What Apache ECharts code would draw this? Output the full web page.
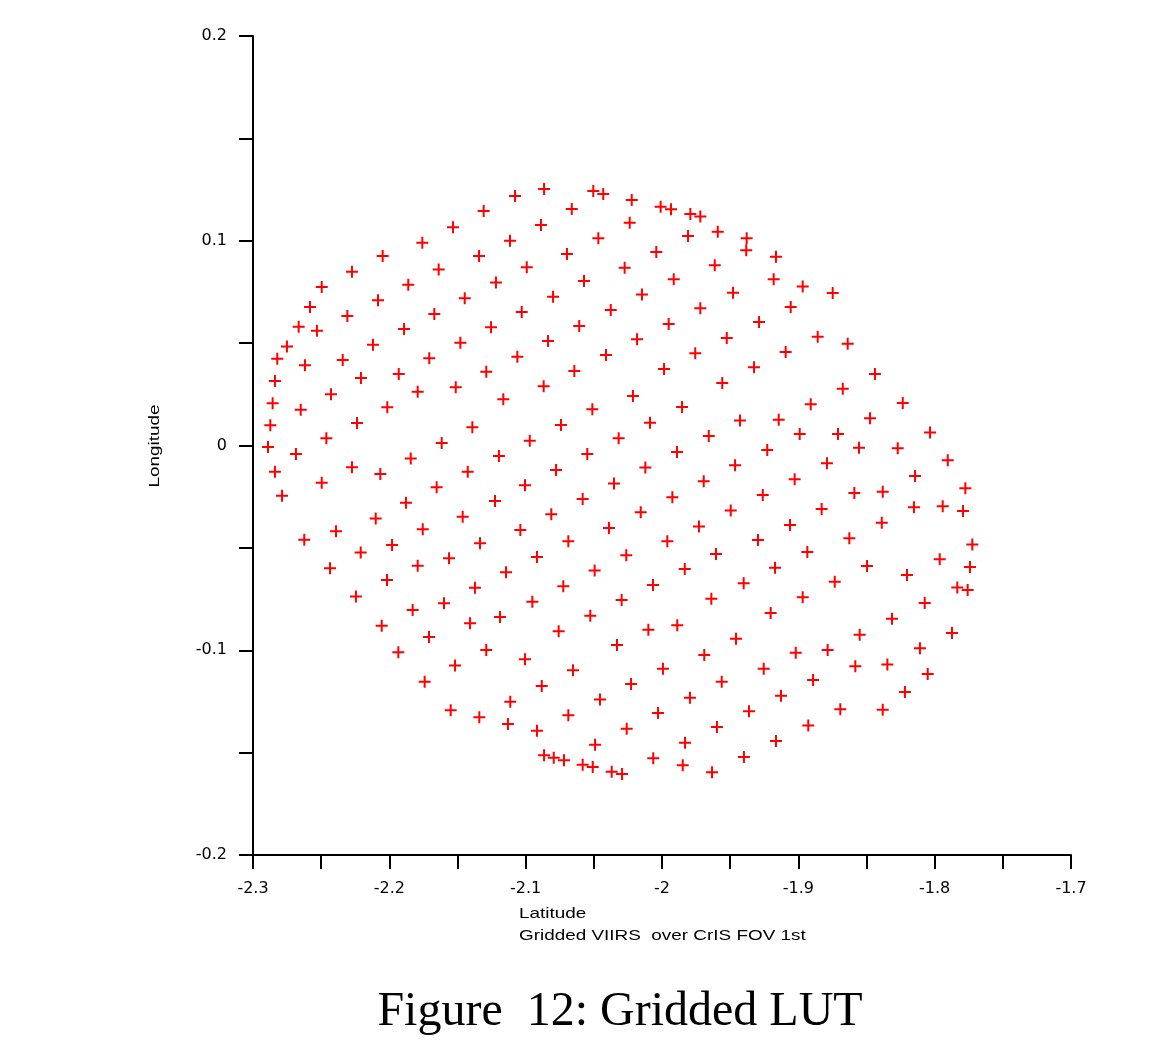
<!DOCTYPE html>
<html>
<head>
<meta charset="utf-8">
<title>Gridded LUT</title>
<script src="https://cdn.jsdelivr.net/npm/echarts@6/dist/echarts.min.js"></script>
<style>
  html, body { margin: 0; padding: 0; background: #ffffff; }
  #chart { width: 1174px; height: 1040px; }
</style>
</head>
<body>
<div id="chart"></div>
<script>
// Gridded VIIRS pixel centres over the first CrIS field of view
const latitude = [
  -2.1308, -2.1533, -2.1758, -2.2049, -2.1342, -2.2274, -2.1638, -2.1218, -2.2496, -2.1861,
  -2.2083, -2.1447, -2.2582, -2.2308, -2.1670, -2.2665, -2.2531, -2.1892, -2.1254, -2.2751,
  -2.2120, -2.1479, -2.2822, -2.2619, -2.2342, -2.1707, -2.1289, -2.2208, -2.1931, -2.1078,
  -2.0865, -2.0504, -2.0431, -2.0222, -2.0010, -1.9934, -1.9792, -1.9719, -2.0662, -2.0888,
  -2.0237, -2.1115, -2.0467, -1.9809, -1.9591, -2.0697, -2.0042, -2.0992, -2.0274, -1.9613,
  -2.0572, -1.9914, -2.0799, -2.0147, -1.9479, -2.1029, -2.0376, -1.9719, -2.0607, -1.9951,
  -2.0836, -2.0183, -1.9525, -2.1061, -2.0411, -1.9756, -2.0643, -1.9985, -1.9558, -1.9379,
  -1.9382, -1.9164, -1.9181, -1.8968, -1.8748, -1.9056, -1.9288, -1.8858, -1.8638, -1.9093,
  -1.9325, -1.8438, -2.2839, -2.2428, -2.1792, -2.1513, -2.2856, -2.2650, -2.2015, -2.1164,
  -2.2873, -2.2237, -2.1391, -2.2462, -2.1616, -2.2890, -2.2685, -2.1843, -2.1196, -2.2274,
  -2.2839, -2.2066, -2.1425, -2.2496, -2.1653, -2.2787, -2.1225, -2.1878, -2.2100, -2.1462,
  -2.2391, -2.1755, -2.2624, -2.1335, -2.1980, -2.2210, -2.1562, -2.2435, -2.1792, -2.2017,
  -2.0868, -2.0213, -2.0511, -1.9853, -2.0741, -2.0088, -1.9428, -2.0970, -2.0318, -1.9657,
  -2.0548, -1.9890, -2.0777, -2.0122, -1.9464, -2.1005, -2.0352, -1.9694, -2.0582, -1.9924,
  -2.0812, -2.0156, -1.9496, -2.1039, -2.0389, -1.9729, -2.0687, -1.9961, -2.0917, -2.0262,
  -1.9604, -2.1144, -2.0494, -1.9833, -1.8674, -1.8909, -1.8234, -1.9144, -1.8474, -1.8990,
  -1.8709, -1.8034, -1.9228, -1.8555, -1.8271, -1.8790, -1.7904, -1.9027, -1.8144, -1.9261,
  -1.8589, -1.8381, -1.7775, -1.8829, -1.8152, -1.7941, -1.7792, -1.9061, -1.8388, -1.9296,
  -1.8626, -1.7724, -1.8934, -1.7963, -1.9171, -1.8496, -1.7741, -1.8203, -2.1372, -2.2245,
  -2.1599, -2.1829, -2.2056, -2.1408, -2.1188, -2.1709, -2.1289, -2.1934, -2.1518, -2.1741,
  -2.1550, -2.1340, -2.0724, -2.0066, -2.0951, -2.0296, -1.9638, -2.0526, -2.0758, -2.0100,
  -1.9888, -1.9457, -2.0330, -2.1005, -1.9690, -2.0653, -1.9993, -2.0882, -2.0227, -1.9562,
  -2.1113, -2.0455, -1.9795, -2.0687, -2.0029, -2.1130, -2.0917, -2.0259, -1.9597, -2.0491,
  -1.9831, -2.0865, -2.0794, -2.0719, -2.0582, -2.0508, -2.0369, -2.0293, -2.0064, -1.9848,
  -1.9633, -1.9401, -1.8733, -1.7834, -1.7758, -1.8968, -1.8073, -1.9203, -1.8313, -1.8550,
  -1.7873, -1.9019, -1.8785, -1.8108, -1.9254, -1.8582, -1.8347, -1.8051, -1.8892, -1.8218,
  -1.9127, -1.9362, -1.8692, -1.8381, -1.8927, -1.9164, -1.9399
];

const longitude = [
  0.1145, 0.1066, 0.0990, 0.0926, 0.0926, 0.0849, 0.0859, 0.0796, 0.0774, 0.0785,
  0.0709, 0.0719, 0.0676, 0.0632, 0.0642, 0.0580, 0.0561, 0.0569, 0.0577, 0.0484,
  0.0492, 0.0502, 0.0424, 0.0392, 0.0418, 0.0426, 0.0360, 0.0330, 0.0349, 0.1219,
  0.1253, 0.1243, 0.1228, 0.1199, 0.1166, 0.1154, 0.1131, 0.1119, 0.1155, 0.1077,
  0.1088, 0.1000, 0.1012, 0.1023, 0.1044, 0.0935, 0.0945, 0.0870, 0.0868, 0.0880,
  0.0803, 0.0812, 0.0727, 0.0738, 0.0746, 0.0652, 0.0662, 0.0670, 0.0584, 0.0593,
  0.0510, 0.0519, 0.0525, 0.0434, 0.0442, 0.0450, 0.0364, 0.0374, 0.0305, 0.1012,
  0.0953, 0.0922, 0.0812, 0.0776, 0.0745, 0.0676, 0.0603, 0.0531, 0.0497, 0.0457,
  0.0382, 0.0349, 0.0315, 0.0250, 0.0263, 0.0284, 0.0206, 0.0175, 0.0187, 0.0226,
  0.0099, 0.0110, 0.0089, 0.0035, 0.0012, -0.0007, -0.0042, -0.0063, -0.0051, -0.0106,
  -0.0128, -0.0139, -0.0128, -0.0182, -0.0204, -0.0245, -0.0271, -0.0279, -0.0356, -0.0348,
  -0.0419, -0.0409, -0.0460, -0.0478, -0.0486, -0.0522, -0.0551, -0.0600, -0.0587, -0.0657,
  0.0289, 0.0242, 0.0177, 0.0188, 0.0100, 0.0111, 0.0122, 0.0023, 0.0035, 0.0046,
  -0.0042, -0.0032, -0.0120, -0.0108, -0.0097, -0.0194, -0.0185, -0.0175, -0.0261, -0.0253,
  -0.0336, -0.0326, -0.0318, -0.0413, -0.0403, -0.0395, -0.0468, -0.0468, -0.0545, -0.0536,
  -0.0530, -0.0619, -0.0611, -0.0603, 0.0277, 0.0201, 0.0208, 0.0126, 0.0133, 0.0056,
  0.0056, 0.0063, -0.0022, -0.0011, -0.0014, -0.0087, -0.0072, -0.0165, -0.0149, -0.0242,
  -0.0232, -0.0226, -0.0209, -0.0310, -0.0302, -0.0297, -0.0320, -0.0388, -0.0377, -0.0462,
  -0.0453, -0.0483, -0.0520, -0.0556, -0.0597, -0.0589, -0.0593, -0.0632, -0.0695, -0.0738,
  -0.0771, -0.0803, -0.0880, -0.0868, -0.0838, -0.0935, -0.0999, -0.1010, -0.1075, -0.1154,
  -0.1293, -0.1327, -0.0688, -0.0681, -0.0763, -0.0755, -0.0748, -0.0831, -0.0907, -0.0900,
  -0.0878, -0.0944, -0.0974, -0.1044, -0.1023, -0.1098, -0.1090, -0.1175, -0.1165, -0.1154,
  -0.1251, -0.1240, -0.1232, -0.1318, -0.1306, -0.1360, -0.1393, -0.1383, -0.1375, -0.1461,
  -0.1452, -0.1513, -0.1525, -0.1537, -0.1559, -0.1570, -0.1593, -0.1604, -0.1528, -0.1562,
  -0.1596, -0.0673, -0.0665, -0.0693, -0.0706, -0.0741, -0.0769, -0.0818, -0.0846, -0.0924,
  -0.0916, -0.1012, -0.0999, -0.0990, -0.1090, -0.1078, -0.1069, -0.1116, -0.1145, -0.1204,
  -0.1222, -0.1298, -0.1288, -0.1290, -0.1367, -0.1443, -0.1521
];

// Axis ranges and tick steps
const xRange = [-2.3, -1.7];
const yRange = [-0.2, 0.2];
const majorStep = 0.1;

const xTitle = 'Latitude';
const xSubtitle = 'Gridded VIIRS  over CrIS FOV 1st';
const yTitle = 'Longitude';
const figureCaption = 'Figure  12: Gridded LUT';

const points = latitude.map((lat, i) => [lat, longitude[i]]);

const sansFont = 'Liberation Sans, Arial, sans-serif';
const tickFont = 'DejaVu Sans, Liberation Sans, sans-serif';
const black = '#000000';
// the plot's annotation lettering is set wide
const textWidthScale = 1.26;

// plus-sign marker built from two thin bars
const plusSymbol = 'path://M0,5H12V7H0Z M5,0H7V12H5Z';

function tickText(v) {
  const r = Math.round(v * 10) / 10;
  return String(r === 0 ? 0 : r);
}

const axisCommon = {
  type: 'value',
  interval: majorStep,
  splitLine: { show: false },
  minorSplitLine: { show: false },
  axisLine: { show: true, onZero: false, lineStyle: { color: black, width: 2 } },
  axisTick: { show: true, inside: false, length: 14, lineStyle: { color: black, width: 2 } },
  minorTick: { show: true, splitNumber: 2, length: 14, lineStyle: { color: black, width: 2 } },
  axisLabel: {
    color: black,
    fontFamily: tickFont,
    fontSize: 16,
    margin: 26,
    formatter: tickText,
    showMinLabel: true,
    showMaxLabel: true
  }
};

const chart = echarts.init(document.getElementById('chart'), null, { renderer: 'canvas' });

chart.setOption({
  animation: false,
  backgroundColor: '#ffffff',
  grid: { left: 253, top: 36, width: 818, height: 819, containLabel: false },
  xAxis: Object.assign({}, axisCommon, {
    min: xRange[0],
    max: xRange[1],
    position: 'bottom'
  }),
  yAxis: Object.assign({}, axisCommon, {
    min: yRange[0],
    max: yRange[1],
    position: 'left'
  }),
  graphic: [
    {
      type: 'text',
      x: 155,
      y: 446,
      rotation: Math.PI / 2,
      scaleX: textWidthScale,
      style: {
        text: yTitle,
        fill: black,
        font: '15px ' + sansFont,
        textAlign: 'center',
        textVerticalAlign: 'middle'
      }
    },
    {
      type: 'text',
      x: 519,
      y: 903,
      scaleX: textWidthScale,
      style: {
        text: xTitle + '\n' + xSubtitle,
        fill: black,
        font: '15px ' + sansFont,
        lineHeight: 22,
        textAlign: 'left',
        textVerticalAlign: 'top'
      }
    },
    {
      type: 'text',
      x: 620,
      y: 1012,
      style: {
        text: figureCaption,
        fill: black,
        font: '48px Liberation Serif, Times New Roman, serif',
        textAlign: 'center',
        textVerticalAlign: 'middle'
      }
    }
  ],
  series: [
    {
      type: 'scatter',
      data: points,
      symbol: plusSymbol,
      symbolSize: 12,
      itemStyle: { color: '#ff0000', opacity: 1 },
      emphasis: { disabled: true },
      silent: true
    }
  ]
});
</script>
</body>
</html>
